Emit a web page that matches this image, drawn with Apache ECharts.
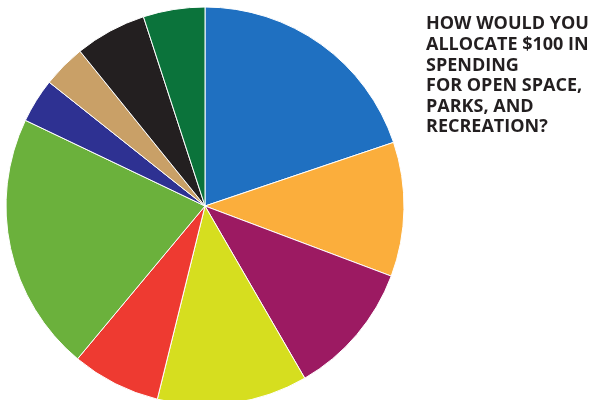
<!DOCTYPE html>
<html><head><meta charset="utf-8">
<script src="https://cdn.jsdelivr.net/npm/echarts@6/dist/echarts.min.js"></script>
<style>html,body{margin:0;padding:0;background:#fff}#c{width:591px;height:400px}</style>
</head><body><div id="c"></div>
<script>
const categories = ['Slice 1','Slice 2','Slice 3','Slice 4','Slice 5','Slice 6','Slice 7','Slice 8','Slice 9','Slice 10'];
const values = [19.8, 10.9, 10.9, 12.2, 7.2, 21.0, 3.6, 3.5, 5.8, 5.0];
const colors = ['#1f70c1','#fbae3c','#9c1a62','#d6de1f','#ee3a31','#6bb13c','#2e3192','#c9a067','#231f20','#0b733b'];
const titleText = 'HOW WOULD YOU\nALLOCATE $100 IN\nSPENDING\nFOR OPEN SPACE,\nPARKS, AND\nRECREATION?';

const chart = echarts.init(document.getElementById('c'));
chart.setOption({
  animation: false,
  title: {
    text: titleText, left: 421, top: 9,
    textStyle: {fontFamily: 'Open Sans', fontWeight: 'bold', fontSize: 18, lineHeight: 20.6, color: '#231f20', letterSpacing: -0.3}
  },
  series: [{
    type: 'pie', center: [205, 206], radius: 199, startAngle: 90, clockwise: true,
    label: {show: false}, labelLine: {show: false},
    itemStyle: {borderColor: '#ffffff', borderWidth: 1},
    emphasis: {disabled: true},
    data: categories.map((c, i) => ({name: c, value: values[i], itemStyle: {color: colors[i]}}))
  }]
});
</script></body></html>
